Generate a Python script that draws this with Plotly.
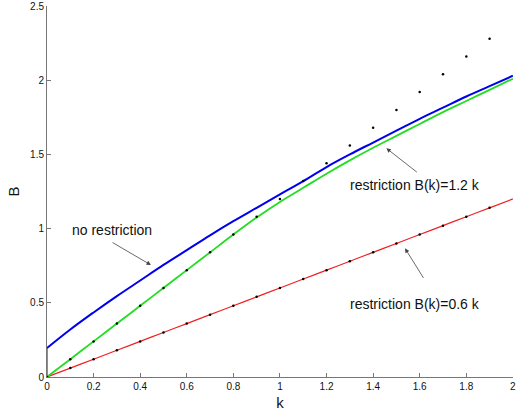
import plotly.graph_objects as go

# grid of k values
k = [0.0, 0.1, 0.2, 0.3, 0.4, 0.5, 0.6, 0.7, 0.8, 0.9, 1.0,
     1.1, 1.2, 1.3, 1.4, 1.5, 1.6, 1.7, 1.8, 1.9, 2.0]

# B(k) without restriction
b_free = [0.195, 0.32, 0.435, 0.545, 0.65, 0.755, 0.855, 0.955, 1.05, 1.14, 1.23,
          1.32, 1.415, 1.50, 1.58, 1.66, 1.74, 1.815, 1.89, 1.96, 2.03]

# B(k) with restriction B(k) <= 1.2 k
b_12 = [0.0, 0.12, 0.24, 0.36, 0.48, 0.60, 0.72, 0.84, 0.96, 1.075, 1.18,
        1.275, 1.37, 1.46, 1.545, 1.625, 1.705, 1.785, 1.86, 1.935, 2.01]

# B(k) with restriction B(k) = 0.6 k
b_06 = [0.0, 0.06, 0.12, 0.18, 0.24, 0.30, 0.36, 0.42, 0.48, 0.54, 0.60,
        0.66, 0.72, 0.78, 0.84, 0.90, 0.96, 1.02, 1.08, 1.14, 1.20]

# bound lines B = 1.2 k and B = 0.6 k, sampled as dots
k_dots = [0.0, 0.1, 0.2, 0.3, 0.4, 0.5, 0.6, 0.7, 0.8, 0.9, 1.0,
          1.1, 1.2, 1.3, 1.4, 1.5, 1.6, 1.7, 1.8, 1.9]
bound_12 = [0.0, 0.12, 0.24, 0.36, 0.48, 0.60, 0.72, 0.84, 0.96, 1.08, 1.20,
            1.32, 1.44, 1.56, 1.68, 1.80, 1.92, 2.04, 2.16, 2.28]
bound_06 = [0.0, 0.06, 0.12, 0.18, 0.24, 0.30, 0.36, 0.42, 0.48, 0.54, 0.60,
            0.66, 0.72, 0.78, 0.84, 0.90, 0.96, 1.02, 1.08, 1.14]

x_ticks = [0, 0.2, 0.4, 0.6, 0.8, 1, 1.2, 1.4, 1.6, 1.8, 2]
x_tick_text = ["0", "0.2", "0.4", "0.6", "0.8", "1", "1.2", "1.4", "1.6", "1.8", "2"]
y_ticks = [0, 0.5, 1, 1.5, 2, 2.5]
y_tick_text = ["0", "0.5", "1", "1.5", "2", "2.5"]

fig = go.Figure()

# jump of the unrestricted solution at k = 0
fig.add_trace(go.Scatter(x=[k[0], k[0]], y=[0, b_free[0]], mode="lines",
                         line=dict(color="#0000ff", width=1), hoverinfo="skip",
                         cliponaxis=False))
fig.add_trace(go.Scatter(x=k, y=b_06, mode="lines",
                         line=dict(color="#ee2222", width=1.2, shape="spline")))
fig.add_trace(go.Scatter(x=k, y=b_12, mode="lines",
                         line=dict(color="#22dd22", width=1.8, shape="spline")))
fig.add_trace(go.Scatter(x=k, y=b_free, mode="lines",
                         line=dict(color="#0000ee", width=2, shape="spline")))
fig.add_trace(go.Scatter(x=k_dots, y=bound_12, mode="markers",
                         marker=dict(color="black", size=2.5)))
fig.add_trace(go.Scatter(x=k_dots, y=bound_06, mode="markers",
                         marker=dict(color="black", size=2.5)))

txt_font = dict(family="Liberation Sans, Arial, sans-serif", size=14, color="#111111")
arrow_color = "#444444"

labels = [
    ("no restriction", 0.277, 0.99, 0.275, 0.912, 0.446, 0.755),
    ("restriction B(k)=1.2 k", 1.579, 1.294, 1.594, 1.373, 1.457, 1.541),
    ("restriction B(k)=0.6 k", 1.579, 0.492, 1.620, 0.658, 1.537, 0.867),
]
for text, tx, ty, ax0, ay0, hx, hy in labels:
    fig.add_annotation(x=tx, y=ty, text=text, showarrow=False, font=txt_font,
                       xanchor="center", yanchor="middle")
    fig.add_annotation(x=hx, y=hy, ax=ax0, ay=ay0, axref="x", ayref="y", text="",
                       showarrow=True, arrowhead=2, arrowsize=1.1, arrowwidth=0.8,
                       arrowcolor=arrow_color)

tick_font = dict(family="Liberation Sans, Arial, sans-serif", size=10, color="#111111")
axis_common = dict(showgrid=False, zeroline=False, showline=True, linecolor="#777777",
                   linewidth=1, ticks="inside", ticklen=4, tickcolor="#777777",
                   tickfont=tick_font, layer="below traces",
                   ticklabeloverflow="allow")

fig.update_layout(
    width=516, height=416,
    margin=dict(l=47, r=0, t=6, b=39),
    plot_bgcolor="white", paper_bgcolor="white",
    showlegend=False,
    xaxis=dict(range=[0, 2.0005], tickvals=x_ticks, ticktext=x_tick_text,
               title=dict(text="k", font=dict(family="Liberation Sans, Arial, sans-serif",
                                              size=15, color="#111111"), standoff=6),
               **axis_common),
    yaxis=dict(range=[0, 2.5], tickvals=y_ticks, ticktext=y_tick_text,
               title=dict(text="B", font=dict(family="Liberation Sans, Arial, sans-serif",
                                              size=15, color="#111111"), standoff=6),
               **axis_common),
)

fig.write_html("out.html")
